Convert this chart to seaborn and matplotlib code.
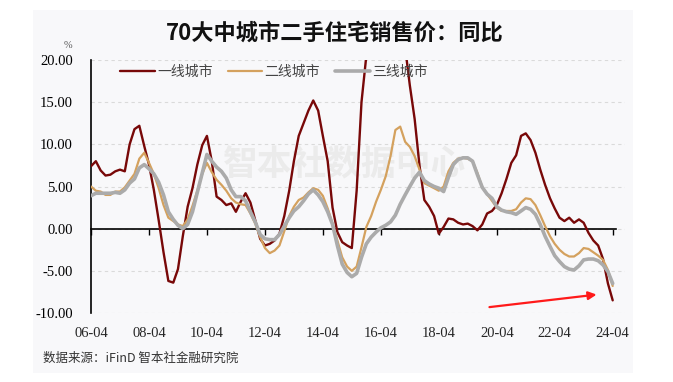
import matplotlib
matplotlib.use("Agg")
import pandas as pd
import seaborn as sns
import matplotlib.pyplot as plt
import matplotlib.dates as mdates
from matplotlib.ticker import FormatStrFormatter
from matplotlib.patches import Rectangle

# %% data: YoY change of second-hand home prices, every 2 months, 2006-04 .. 2024-04
dates = pd.date_range("2006-04-01", "2024-04-01", freq="2MS")

tier1 = [7.4, 8.0, 6.9, 6.3, 6.4,
         6.8, 7.0, 6.8, 10.0, 11.8, 12.2,
         9.8, 7.6, 4.6, 1.0, -2.8, -6.2,
         -6.4, -4.8, -0.9, 2.6, 4.8, 7.6,
         9.9, 11.0, 8.0, 3.8, 3.4, 2.8,
         3.0, 2.0, 3.2, 4.2, 3.1, 1.0,
         -1.2, -2.0, -1.8, -1.4, -0.6, 1.5,
         4.5, 8.0, 11.0, 12.5, 14.0, 15.2,
         14.0, 11.0, 8.0, 2.5, -0.4, -1.6,
         -2.0, -2.3, 4.5, 15.0, 20.5, 23.0,
         25.0, 27.0, 28.0, 27.5, 26.0, 24.0,
         21.5, 17.0, 13.0, 7.5, 3.4, 2.6,
         1.5, -0.6, 0.2, 1.2, 1.1, 0.7,
         0.5, 0.6, 0.3, -0.2, 0.5, 1.8,
         2.1, 2.8, 4.2, 5.9, 7.8, 8.7,
         11.0, 11.3, 10.5, 9.0, 7.0, 5.2,
         3.6, 2.4, 1.3, 0.9, 1.3, 0.7,
         1.1, 0.7, -0.5, -1.4, -2.0, -3.6,
         -6.5, -8.5]

tier2 = [5.0, 4.5, 4.4, 4.0, 4.0,
         4.4, 4.4, 4.9, 5.7, 6.5, 8.3,
         9.0, 7.8, 6.5, 4.8, 2.8, 1.3,
         0.9, 0.5, 0.3, 1.1, 2.7, 4.5,
         6.5, 7.8, 6.7, 5.8, 5.2, 4.5,
         3.6, 3.1, 2.9, 2.8, 1.8, 0.6,
         -1.0, -2.3, -2.9, -2.6, -2.0, -0.3,
         1.5, 2.6, 3.4, 3.7, 4.3, 4.8,
         4.6, 3.9, 2.4, 0.6, -1.4, -3.4,
         -4.5, -5.0, -4.5, -2.2, 0.2, 1.5,
         3.2, 4.6, 6.2, 8.6, 11.7, 12.1,
         10.3, 9.7, 8.6, 7.0, 5.4, 5.1,
         4.8, 4.5, 5.0, 6.8, 7.8, 8.3,
         8.4, 8.3, 8.0, 6.6, 4.9, 4.1,
         3.3, 2.5, 2.1, 2.1, 2.1, 2.3,
         3.1, 3.6, 3.5, 2.8, 1.6, 0.3,
         -0.9, -1.8, -2.5, -3.0, -3.3, -3.3,
         -2.9, -2.3, -2.4, -2.8, -3.2, -3.7,
         -4.9, -6.8]

tier3 = [3.9, 4.2, 4.2, 4.2, 4.2,
         4.3, 4.2, 4.6, 5.4, 5.9, 7.2,
         7.6, 7.1, 6.5, 5.5, 4.0, 2.0,
         1.1, 0.4, 0.0, 0.5, 2.0, 4.3,
         6.6, 8.8, 8.0, 7.3, 6.8, 6.0,
         4.6, 3.8, 3.8, 3.3, 2.0, 0.8,
         -0.7, -1.2, -1.3, -1.3, -0.7, 0.3,
         1.3, 2.1, 2.6, 3.3, 4.1, 4.6,
         4.0, 3.2, 2.0, 0.5, -2.0, -4.2,
         -5.2, -5.7, -5.3, -3.4, -1.8, -1.0,
         -0.4, 0.1, 0.4, 0.8, 1.6, 2.9,
         4.0, 5.0, 6.0, 6.7, 5.7, 5.3,
         5.0, 4.8, 4.4, 6.1, 7.6, 8.2,
         8.4, 8.4, 8.0, 6.4, 4.9, 4.1,
         3.6, 2.6, 2.2, 2.0, 1.9, 1.7,
         2.1, 2.5, 2.3, 1.7, 0.5, -0.9,
         -2.1, -3.2, -3.9, -4.5, -4.8, -4.9,
         -4.4, -3.7, -3.6, -3.6, -3.8, -4.3,
         -5.1, -6.5]

names = ["一线城市", "二线城市", "三线城市"]
colors = ["#780808", "#d4a15e", "#ababab"]
widths = [1.7, 1.6, 2.6]
xticks = pd.date_range("2006-04-01", "2024-04-01", freq="24MS")
yticks = [-10, -5, 0, 5, 10, 15, 20]

df = pd.DataFrame({"date": dates, names[0]: tier1, names[1]: tier2, names[2]: tier3})

# %%
sns.set_style("white")
plt.rcParams["font.family"] = ["Noto Sans CJK SC", "DejaVu Sans"]

fig = plt.figure(figsize=(6.73, 3.82), dpi=100)
fig.patches.append(Rectangle((33 / 673, 1 - 373 / 382), 600 / 673, 363 / 382,
                             transform=fig.transFigure, facecolor="#f8f8fa",
                             edgecolor="none", zorder=-5))
ax = fig.add_axes([91 / 673, 1 - 313 / 382, 534 / 673, 253 / 382])
ax.set_facecolor("none")

for name, c, w in zip(names, colors, widths):
    sns.lineplot(data=df, x="date", y=name, color=c, lw=w, label=name, ax=ax, zorder=3)

ax.set_xlim(pd.Timestamp("2006-04-01"), pd.Timestamp("2024-09-03"))
ax.set_ylim(-10, 20)
ax.set_xlabel("")
ax.set_ylabel("")

# y axis
ax.set_yticks(yticks)
ax.yaxis.set_major_formatter(FormatStrFormatter("%.2f"))
ax.tick_params(axis="y", direction="in", length=4, width=1, pad=13,
               labelsize=10.5, colors="black")
for t in ax.get_yticklabels():
    t.set_family("Liberation Serif")
ax.grid(axis="y", color="#dadada", ls=(0, (3, 3)), lw=0.8)
ax.grid(axis="x", visible=False)

for s in ["top", "right"]:
    ax.spines[s].set_visible(False)
ax.spines["left"].set_color("black")
ax.spines["left"].set_linewidth(1.2)

# zero line with ticks, labels at the bottom
ax.spines["bottom"].set_position(("data", 0))
ax.spines["bottom"].set_color("black")
ax.spines["bottom"].set_linewidth(1.2)
ax.spines["bottom"].set_bounds(mdates.date2num(pd.Timestamp("2006-04-01")),
                               mdates.date2num(pd.Timestamp("2024-05-10")))
ax.set_xticks(xticks)
ax.tick_params(axis="x", direction="out", length=4, width=1, labelbottom=False,
               bottom=True, colors="black")

sec = ax.secondary_xaxis("bottom")
sec.set_xticks(mdates.date2num(xticks))
sec.xaxis.set_major_formatter(mdates.DateFormatter("%y-%m"))
sec.tick_params(length=0, pad=10, labelsize=10.5)
sec.spines["bottom"].set_visible(False)
for t in sec.get_xticklabels():
    t.set_family("Liberation Serif")

# legend
leg = ax.legend(loc="upper left", bbox_to_anchor=(0.039, 1.012), ncol=3, frameon=False,
                fontsize=10, handlelength=2.5, handletextpad=0.15, columnspacing=1.1,
                borderaxespad=0.2)
for t in leg.get_texts():
    t.set_color("#444444")

# watermark
ax.text(0.475, 0.585, "智本社数据中心", transform=ax.transAxes, ha="center", va="center",
        fontsize=25, fontweight="bold", color="#ebebeb", zorder=1)

# red arrow
ax.annotate("", xy=(0.952, 0.074), xytext=(0.741, 0.022), xycoords="axes fraction",
            arrowprops=dict(arrowstyle="-|>", color="#ff1a1a", lw=1.6, mutation_scale=12))

fig.text(335 / 673, 1 - 33 / 382, "70大中城市二手住宅销售价：同比", ha="center", va="center",
         fontsize=16, fontweight="bold", color="#111111")
fig.text(68 / 673, 1 - 46 / 382, "%", ha="center", va="center", fontsize=7.5,
         family="Liberation Serif", color="#555555")
fig.text(43 / 673, 1 - 358 / 382, "数据来源：iFinD 智本社金融研究院", ha="left", va="center",
         fontsize=9, color="#333333")

fig.savefig("out.png", dpi=100)
